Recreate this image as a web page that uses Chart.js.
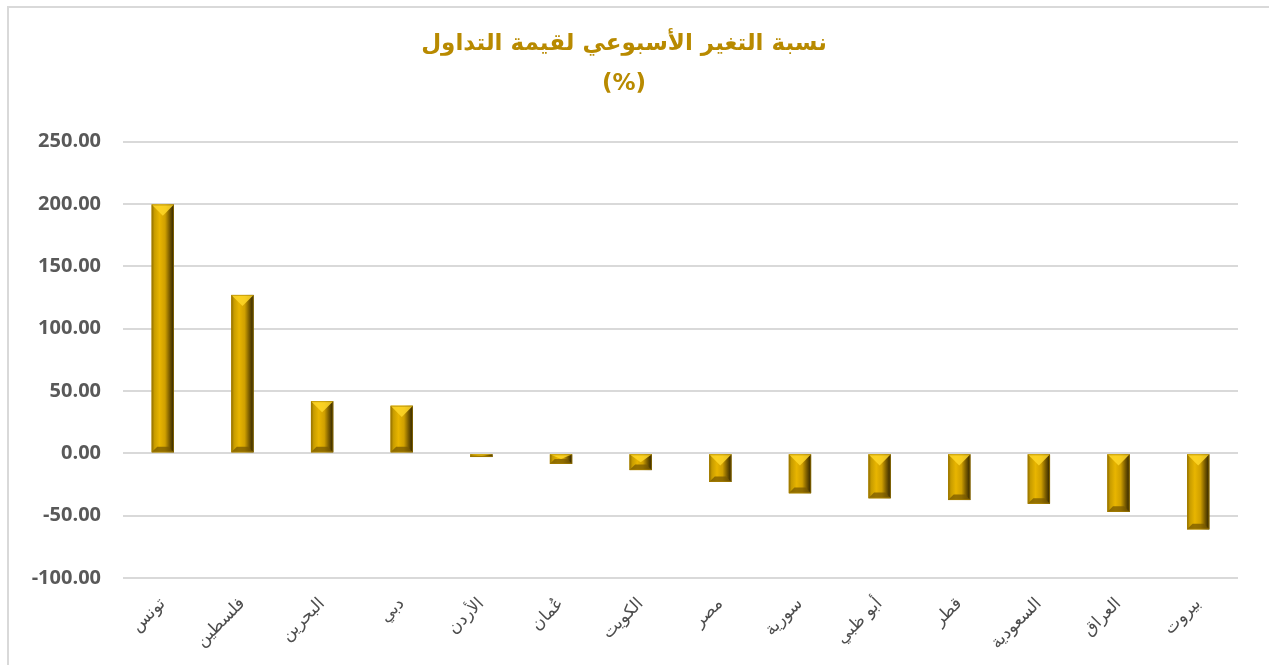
<!DOCTYPE html>
<html>
<head>
<meta charset="utf-8">
<script src="https://cdn.jsdelivr.net/npm/chart.js@4/dist/chart.umd.min.js"></script>
<style>
html,body{margin:0;padding:0;background:#fff;}
#wrap{position:relative;width:1269px;height:665px;}
</style>
</head>
<body>
<div id="wrap"><canvas id="c" width="1269" height="665"></canvas></div>
<script>
const categories = ["تونس","فلسطين","البحرين","دبي","الأردن","عُمان","الكويت","مصر","سورية","أبو ظبي","قطر","السعودية","العراق","بيروت"];
const values = [199.5, 127.0, 41.8, 38.1, -3.0, -8.5, -13.5, -23.0, -32.0, -36.0, -37.5, -40.5, -47.0, -61.0];
const titleLines = ["نسبة التغير الأسبوعي لقيمة التداول", "(%)"];
const yTicks = { min: -100, max: 250, step: 50 };

const borderPlugin = {
  id: 'frame',
  beforeDraw(chart) {
    const c = chart.ctx;
    c.save();
    c.fillStyle = '#fff';
    c.fillRect(0, 0, chart.width, chart.height);
    c.strokeStyle = '#D9D9D9';
    c.lineWidth = 2;
    c.beginPath();
    c.moveTo(8, chart.height);
    c.lineTo(8, 7);
    c.lineTo(chart.width, 7);
    c.stroke();
    c.restore();
  }
};

const bevelPlugin = {
  id: 'bevel',
  afterDatasetsDraw(chart) {
    const c = chart.ctx;
    const meta = chart.getDatasetMeta(0);
    meta.data.forEach((el) => {
      const p = el.getProps(['x', 'y', 'base', 'width'], true);
      const L = p.x - p.width / 2, R = p.x + p.width / 2;
      const top = Math.min(p.y, p.base), bot = Math.max(p.y, p.base);
      const h = bot - top;
      if (h <= 0) return;
      const w = p.width;
      const b = Math.min(w * 0.25, h / 2);
      c.save();
      const g = c.createLinearGradient(L, 0, R, 0);
      g.addColorStop(0, '#8a6a00');
      g.addColorStop(0.12, '#c79c00');
      g.addColorStop(0.35, '#e8b500');
      g.addColorStop(0.6, '#d0a000');
      g.addColorStop(0.8, '#7a5c00');
      g.addColorStop(1, '#2a2000');
      c.fillStyle = g;
      c.fillRect(L, top, w, h);
      const tb = Math.min(w * 0.5, h / 2);
      c.fillStyle = 'rgba(255,215,40,0.85)';
      c.beginPath();
      c.moveTo(L, top);
      c.lineTo(R, top);
      c.lineTo(p.x, top + tb);
      c.closePath();
      c.fill();
      c.fillStyle = 'rgba(120,90,0,0.75)';
      c.beginPath();
      c.moveTo(L, bot);
      c.lineTo(R, bot);
      c.lineTo(R - b, bot - b);
      c.lineTo(L + b, bot - b);
      c.closePath();
      c.fill();
      c.strokeStyle = 'rgba(170,130,0,0.6)';
      c.lineWidth = 1;
      c.strokeRect(L + 0.5, top + 0.5, w - 1, h - 1);
      c.restore();
    });
  }
};

new Chart(document.getElementById('c'), {
  type: 'bar',
  data: {
    labels: categories,
    datasets: [{
      data: values,
      backgroundColor: '#D4A400',
      borderWidth: 0,
      categoryPercentage: 0.28,
      barPercentage: 1.0
    }]
  },
  options: {
    responsive: false,
    animation: false,
    layout: { padding: { left: 10, right: 31, top: 0, bottom: 0 } },
    plugins: {
      legend: { display: false },
      tooltip: { enabled: false },
      title: {
        display: true,
        text: titleLines,
        color: '#B88A00',
        font: { family: 'DejaVu Sans', size: 23, weight: 'bold', lineHeight: 1.75 },
        padding: { top: 24, bottom: 37 }
      }
    },
    scales: {
      x: {
        grid: { display: false, drawTicks: false },
        border: { display: false },
        ticks: {
          color: '#4d4d4d',
          font: { family: 'DejaVu Sans', size: 17 },
          minRotation: 45,
          maxRotation: 45,
          autoSkip: false,
          padding: 16
        },
        afterFit(scale) { scale.height = 87; }
      },
      y: {
        min: yTicks.min,
        max: yTicks.max,
        ticks: {
          stepSize: yTicks.step,
          color: '#595959',
          font: { family: 'Open Sans', size: 20, weight: 'bold' },
          padding: 22,
          callback: (v) => v.toFixed(2)
        },
        grid: { color: '#D9D9D9', lineWidth: 2, drawTicks: false },
        border: { display: false },
        afterFit(scale) { scale.width = 113; }
      }
    }
  },
  plugins: [borderPlugin, bevelPlugin]
});
</script>
</body>
</html>
